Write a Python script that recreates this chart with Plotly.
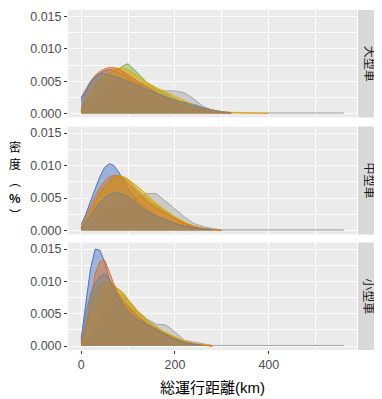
import plotly.graph_objects as go

# ---- data ----
X = [0, 10, 20, 30, 40, 50, 60, 70, 80, 90, 100, 120, 140, 160, 180, 200, 220,
     240, 260, 280, 300, 320, 340, 360, 400, 450, 500, 560]

facets = ["大型車", "中型車", "小型車"]
# drawing order: B (light gray), C (blue), F (green), E (gold), D (orange), A (dark gray)
series_names = ["系列B", "系列C", "系列F", "系列E", "系列D", "系列A"]
series_colors = ["#A5A5A5", "#4472C4", "#70AD47", "#E8A800", "#E0702A", "#7F7F7F"]

# 大型車
large_A = [0.0025, 0.0038, 0.0050, 0.0058, 0.0062, 0.0062, 0.0060, 0.0058, 0.0055, 0.0052, 0.0049, 0.0043, 0.0037, 0.0031, 0.0026, 0.0021, 0.0016, 0.0012, 0.0008, 0.0005, 0.0003, 0.0001]
large_B = [0.0002, 0.0010, 0.0020, 0.0030, 0.0038, 0.0044, 0.0048, 0.0051, 0.0052, 0.0053, 0.0052, 0.0047, 0.0041, 0.0037, 0.0035, 0.0035, 0.0032, 0.0023, 0.0011, 0.0005, 0.0002, 0.0001, 0.0001, 0.0001, 0.0001, 0.0001, 0.0001, 0.0001]
large_C = [0.0022, 0.0035, 0.0047, 0.0056, 0.0062, 0.0066, 0.0068, 0.0067, 0.0064, 0.0060, 0.0055, 0.0045, 0.0036, 0.0029, 0.0024, 0.0020, 0.0017, 0.0014, 0.0009, 0.0005, 0.0002, 0.0001]
large_D = [0.0006, 0.0030, 0.0048, 0.0059, 0.0065, 0.0069, 0.0071, 0.0071, 0.0069, 0.0065, 0.0060, 0.0050, 0.0041, 0.0032, 0.0024, 0.0017, 0.0011, 0.0007, 0.0004, 0.0002, 0.0001, 0.0]
large_E = [0.0003, 0.0015, 0.0028, 0.0040, 0.0050, 0.0058, 0.0064, 0.0068, 0.0070, 0.0070, 0.0068, 0.0058, 0.0048, 0.0040, 0.0033, 0.0026, 0.0019, 0.0013, 0.0008, 0.0005, 0.0003, 0.0002, 0.0001, 0.0001, 0.0]
large_F = [0.0005, 0.0018, 0.0032, 0.0044, 0.0053, 0.0059, 0.0063, 0.0066, 0.0069, 0.0074, 0.0077, 0.0063, 0.0048, 0.0038, 0.0030, 0.0022, 0.0015, 0.0009, 0.0005, 0.0002, 0.0001]

# 中型車
medium_A = [0.0003, 0.0012, 0.0023, 0.0034, 0.0043, 0.0050, 0.0055, 0.0058, 0.0058, 0.0056, 0.0052, 0.0040, 0.0030, 0.0022, 0.0016, 0.0011, 0.0007, 0.0004, 0.0002, 0.0001]
medium_B = [0.0002, 0.0006, 0.0012, 0.0018, 0.0024, 0.0030, 0.0035, 0.0039, 0.0042, 0.0044, 0.0046, 0.0052, 0.0057, 0.0057, 0.0045, 0.0032, 0.0021, 0.0011, 0.0006, 0.0003, 0.0001, 0.0001, 0.0001, 0.0001, 0.0001, 0.0001, 0.0001, 0.0001]
medium_C = [0.0009, 0.0025, 0.0045, 0.0065, 0.0083, 0.0097, 0.0103, 0.0100, 0.0090, 0.0078, 0.0065, 0.0045, 0.0032, 0.0024, 0.0017, 0.0011, 0.0006, 0.0003, 0.0002, 0.0001]
medium_D = [0.0005, 0.0020, 0.0037, 0.0053, 0.0066, 0.0076, 0.0082, 0.0085, 0.0084, 0.0080, 0.0073, 0.0058, 0.0045, 0.0035, 0.0026, 0.0018, 0.0011, 0.0006, 0.0003, 0.0001, 0.0]
medium_E = [0.0002, 0.0012, 0.0025, 0.0040, 0.0053, 0.0064, 0.0073, 0.0080, 0.0084, 0.0083, 0.0079, 0.0068, 0.0055, 0.0042, 0.0031, 0.0021, 0.0013, 0.0007, 0.0003, 0.0001, 0.0]
medium_F = [0.0004, 0.0015, 0.0030, 0.0045, 0.0058, 0.0068, 0.0076, 0.0082, 0.0085, 0.0083, 0.0078, 0.0063, 0.0050, 0.0039, 0.0029, 0.0020, 0.0012, 0.0006, 0.0003, 0.0001, 0.0]

# 小型車
small_A = [0.0008, 0.0050, 0.0080, 0.0098, 0.0108, 0.0112, 0.0105, 0.0090, 0.0075, 0.0063, 0.0053, 0.0041, 0.0033, 0.0025, 0.0018, 0.0011, 0.0006, 0.0003, 0.0001]
small_B = [0.0002, 0.0008, 0.0015, 0.0027, 0.0040, 0.0055, 0.0070, 0.0078, 0.0080, 0.0078, 0.0070, 0.0055, 0.0042, 0.0034, 0.0033, 0.0022, 0.0009, 0.0006, 0.0003, 0.0001, 0.0001, 0.0001, 0.0001, 0.0001, 0.0001, 0.0001, 0.0001, 0.0001]
small_C = [0.0011, 0.0070, 0.0120, 0.0150, 0.0148, 0.0130, 0.0103, 0.0085, 0.0075, 0.0066, 0.0058, 0.0043, 0.0033, 0.0025, 0.0019, 0.0012, 0.0006, 0.0003, 0.0001, 0.0]
small_D = [0.0005, 0.0030, 0.0070, 0.0112, 0.0130, 0.0133, 0.0115, 0.0095, 0.0080, 0.0070, 0.0062, 0.0047, 0.0035, 0.0026, 0.0018, 0.0011, 0.0006, 0.0003, 0.0001, 0.0]
small_E = [0.0003, 0.0020, 0.0040, 0.0062, 0.0080, 0.0093, 0.0100, 0.0095, 0.0087, 0.0082, 0.0072, 0.0055, 0.0040, 0.0029, 0.0021, 0.0014, 0.0008, 0.0004, 0.0002, 0.0001]
small_F = [0.0005, 0.0030, 0.0060, 0.0085, 0.0095, 0.0100, 0.0098, 0.0092, 0.0088, 0.0082, 0.0072, 0.0052, 0.0040, 0.0030, 0.0020, 0.0012, 0.0006, 0.0003, 0.0001]

facet_data = [
    [large_B, large_C, large_F, large_E, large_D, large_A],
    [medium_B, medium_C, medium_F, medium_E, medium_D, medium_A],
    [small_B, small_C, small_F, small_E, small_D, small_A],
]

x_ticks = [0, 200, 400]
y_ticks = [0.000, 0.005, 0.010, 0.015]
y_ticktext = ["0.000", "0.005", "0.010", "0.015"]

y_title_chars = ["密", "度", "︵", "<b>%</b>", "︶"]

# ---- figure ----
FONT = "Liberation Sans, Arial, Noto Sans CJK JP, sans-serif"
CJK = "Noto Sans CJK JP, sans-serif"

def rgba(hexc, a):
    h = hexc.lstrip("#")
    return "rgba(%d,%d,%d,%.2f)" % (int(h[0:2], 16), int(h[2:4], 16), int(h[4:6], 16), a)

fig = go.Figure()
domains = [[0.684, 1.0], [0.340, 0.657], [0.0, 0.316]]

for i, (fname, sers) in enumerate(zip(facets, facet_data)):
    ax = "" if i == 0 else str(i + 1)
    for name, col, vals in zip(series_names, series_colors, sers):
        fig.add_trace(go.Scatter(
            x=X[:len(vals)], y=vals, mode="lines", name=name,
            line=dict(color=col, width=1), fill="tozeroy",
            fillcolor=rgba(col, 0.48), showlegend=False,
            xaxis="x" + ax, yaxis="y" + ax, hoverinfo="skip"))

# page body has an 8px margin, so the figure is 8px smaller on each axis
layout = dict(
    width=374, height=391, autosize=False,
    margin=dict(l=60, r=25, t=2, b=49, autoexpand=False),
    paper_bgcolor="white", plot_bgcolor="#EBEBEB",
    font=dict(family=FONT, size=12, color="#4D4D4D"),
    showlegend=False,
)

for i in range(3):
    ax = "" if i == 0 else str(i + 1)
    bottom = (i == 2)
    layout["xaxis" + ax] = dict(
        domain=[0, 1], anchor="y" + ax, range=[-28, 588],
        tickvals=x_ticks, ticktext=[str(v) for v in x_ticks],
        showticklabels=bottom, ticks="outside" if bottom else "",
        ticklen=3, tickcolor="#333333", tickwidth=1,
        showgrid=True, gridcolor="white", gridwidth=1.1,
        minor=dict(dtick=100, tick0=0, showgrid=True, gridcolor="white", gridwidth=0.5, ticks=""),
        zeroline=False, showline=False,
        tickfont=dict(size=12.5, color="#4D4D4D", family=FONT),
    )
    if i > 0:
        layout["xaxis" + ax]["matches"] = "x"
    layout["yaxis" + ax] = dict(
        domain=domains[i], anchor="x" + ax, range=[-0.0006, 0.0160],
        tickvals=y_ticks, ticktext=y_ticktext,
        ticks="outside", ticklen=3, tickcolor="#333333", tickwidth=1,
        showgrid=True, gridcolor="white", gridwidth=1.1,
        minor=dict(dtick=0.0025, tick0=0, showgrid=True, gridcolor="white", gridwidth=0.5, ticks=""),
        zeroline=False, showline=False,
        tickfont=dict(size=12.5, color="#4D4D4D", family=FONT),
    )

fig.update_layout(**layout)

# facet strips
x0s = (350 - 60) / 289.0
x1s = (374 - 60) / 289.0
for i, fname in enumerate(facets):
    d = domains[i]
    fig.add_shape(type="rect", xref="paper", yref="paper", x0=x0s, x1=x1s,
                  y0=d[0], y1=d[1], fillcolor="#D9D9D9", line=dict(width=0), layer="below")
    fig.add_annotation(x=(x0s + x1s) / 2, y=(d[0] + d[1]) / 2, xref="paper", yref="paper",
                       text=fname, textangle=90, showarrow=False,
                       font=dict(family=CJK, size=12, color="#1A1A1A"),
                       xanchor="center", yanchor="middle")

# axis titles
fig.add_annotation(x=0.5, y=(342 - 379) / 340.0, xref="paper", yref="paper",
                   text="総運行距離(km)", showarrow=False,
                   font=dict(family=FONT, size=15, color="#000000"),
                   xanchor="center", yanchor="middle")
for k, ch in enumerate(y_title_chars):
    fig.add_annotation(x=(7 - 60) / 289.0, y=0.6 - 0.05 * k, xref="paper", yref="paper",
                       text=ch, showarrow=False,
                       font=dict(family=CJK, size=12, color="#000000"),
                       xanchor="center", yanchor="middle")

fig.write_html("out.html")
